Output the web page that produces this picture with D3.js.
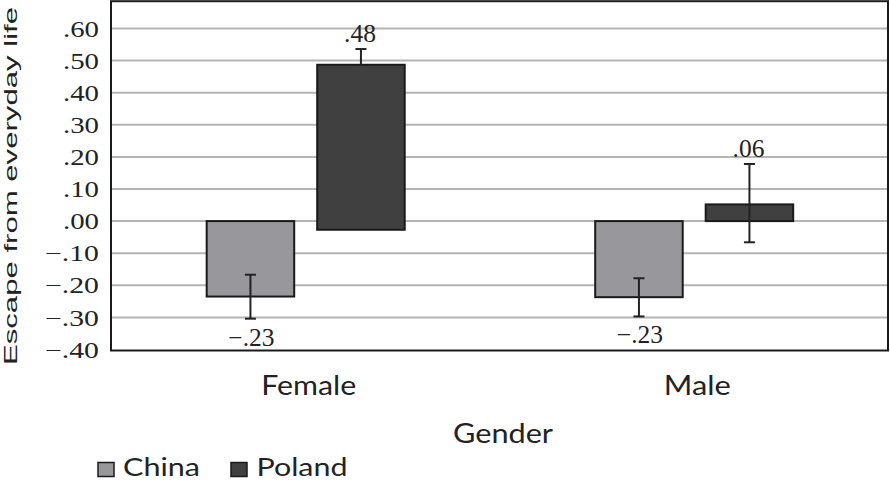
<!DOCTYPE html>
<html>
<head>
<meta charset="utf-8">
<script src="https://cdn.jsdelivr.net/npm/d3@7"></script>
<style>
  html, body { margin: 0; padding: 0; background: #fff; }
  svg { display: block; }
</style>
</head>
<body>
<svg id="chart" width="890" height="481"></svg>
<script>
// ---- data ----
const categories = ["Female", "Male"];
const series = ["China", "Poland"];
const chinaValues = [-0.235, -0.237];
const polandValues = [0.487, 0.052];
const chinaBase = [0, 0];
const polandBase = [-0.027, 0];
const chinaErrLow = [-0.304, -0.297];
const chinaErrHigh = [-0.167, -0.178];
const polandErrLow = [0.487, -0.066];
const polandErrHigh = [0.536, 0.178];
const chinaLabels = ["\u2212.23", "\u2212.23"];
const polandLabels = [".48", ".06"];
const tickValues = [-0.4, -0.3, -0.2, -0.1, 0, 0.1, 0.2, 0.3, 0.4, 0.5, 0.6];
const frameTopValue = 0.685;
const yTitle = "Escape from everyday life";
const xTitle = "Gender";

// ---- layout ----
const svg = d3.select("#chart");
const plotLeft = 111, plotRight = 888;
const y = d3.scaleLinear().domain([-0.4, 0.6]).range([349.5, 28.5]);
const x0 = d3.scaleBand().domain(categories).range([plotLeft, plotRight]).padding(0);
const bw = x0.bandwidth();
const x1 = d3.scaleBand().domain(series).range([0.2463 * bw, 0.756 * bw]).paddingInner(0.208).paddingOuter(0);
const colors = { China: "#98989c", Poland: "#404040" };
const numFont = "'Liberation Serif', serif";
const txtFont = "Lato, 'Open Sans', sans-serif";

const rows = categories.map((c, i) => ({
  cat: c,
  bars: [
    { s: "China", v: chinaValues[i], base: chinaBase[i], lo: chinaErrLow[i], hi: chinaErrHigh[i], label: chinaLabels[i] },
    { s: "Poland", v: polandValues[i], base: polandBase[i], lo: polandErrLow[i], hi: polandErrHigh[i], label: polandLabels[i] }
  ]
}));

// gridlines
svg.append("g").selectAll("line").data(tickValues.filter(t => t > -0.4)).join("line")
  .attr("x1", plotLeft).attr("x2", plotRight)
  .attr("y1", d => y(d)).attr("y2", d => y(d))
  .attr("stroke", "#b4b4b4").attr("stroke-width", 2);

// y axis ticks
const fmt = d => {
  const s = Math.abs(d).toFixed(2).replace(/^0/, "");
  return (d < -1e-9 ? "\u2212" : "") + s;
};
const yAxis = d3.axisLeft(y).tickValues(tickValues).tickFormat(fmt).tickSize(0).tickPadding(12);
const gy = svg.append("g").attr("transform", `translate(${plotLeft},0)`).call(yAxis);
gy.select(".domain").remove();
gy.selectAll("text")
  .attr("font-family", numFont).attr("font-size", 22.5).attr("fill", "#222")
  .attr("dy", "0.34em")
  .attr("textLength", d => (d < -1e-9 ? 54 : 36))
  .attr("lengthAdjust", "spacingAndGlyphs");

// bars
const groups = svg.append("g").selectAll("g").data(rows).join("g")
  .attr("transform", d => `translate(${x0(d.cat)},0)`);

groups.selectAll("rect").data(d => d.bars).join("rect")
  .attr("x", d => x1(d.s))
  .attr("width", x1.bandwidth())
  .attr("y", d => y(Math.max(d.v, d.base)))
  .attr("height", d => Math.abs(y(d.v) - y(d.base)))
  .attr("fill", d => colors[d.s])
  .attr("stroke", "#1a1a1a").attr("stroke-width", 2);

// error bars
const eb = groups.selectAll("g.err").data(d => d.bars).join("g").attr("class", "err");
eb.append("line")
  .attr("x1", d => x1(d.s) + x1.bandwidth() / 2).attr("x2", d => x1(d.s) + x1.bandwidth() / 2)
  .attr("y1", d => y(d.lo)).attr("y2", d => y(d.hi))
  .attr("stroke", "#222").attr("stroke-width", 2);
eb.selectAll("line.cap")
  .data(d => (d.lo === d.v ? [{ s: d.s, v: d.hi }] : [{ s: d.s, v: d.lo }, { s: d.s, v: d.hi }]))
  .join("line").attr("class", "cap")
  .attr("x1", d => x1(d.s) + x1.bandwidth() / 2 - 5.5).attr("x2", d => x1(d.s) + x1.bandwidth() / 2 + 5.5)
  .attr("y1", d => y(d.v)).attr("y2", d => y(d.v))
  .attr("stroke", "#222").attr("stroke-width", 2);

// value labels
groups.selectAll("text.val").data(d => d.bars).join("text").attr("class", "val")
  .attr("x", d => x1(d.s) + x1.bandwidth() / 2 + (d.s === "China" ? 1 : -1))
  .attr("y", d => d.v < 0 ? y(d.lo) + 27 : y(d.hi) - 7)
  .attr("text-anchor", "middle")
  .attr("font-family", numFont).attr("font-size", 25.5).attr("fill", "#222")
  .text(d => d.label);

// frame
svg.append("rect")
  .attr("x", plotLeft).attr("y", y(frameTopValue))
  .attr("width", plotRight - plotLeft).attr("height", y(-0.4) + 1 - y(frameTopValue))
  .attr("fill", "none").attr("stroke", "#1a1a1a").attr("stroke-width", 2);

// category labels
svg.append("g").selectAll("text").data(categories).join("text")
  .attr("x", d => x0(d) + bw / 2 + 3.5)
  .attr("y", 395)
  .attr("text-anchor", "middle")
  .attr("font-family", txtFont).attr("font-size", 27).attr("fill", "#222")
  .attr("textLength", d => d === "Female" ? 95 : 67)
  .attr("lengthAdjust", "spacingAndGlyphs")
  .text(d => d);

// x title
svg.append("text")
  .attr("x", 503).attr("y", 443)
  .attr("text-anchor", "middle")
  .attr("font-family", txtFont).attr("font-size", 27).attr("fill", "#222")
  .attr("textLength", 100).attr("lengthAdjust", "spacingAndGlyphs")
  .text(xTitle);

// y title
svg.append("text")
  .attr("transform", "translate(17,186) rotate(-90)")
  .attr("text-anchor", "middle")
  .attr("font-family", "'Liberation Sans', Arial, sans-serif").attr("font-size", 18).attr("fill", "#222")
  .attr("textLength", 358).attr("lengthAdjust", "spacingAndGlyphs")
  .text(yTitle);

// legend
const legendX = [98, 231];
const legendTextLen = [77, 91];
const lg = svg.append("g").selectAll("g").data(series).join("g")
  .attr("transform", (d, i) => `translate(${legendX[i]},462.5)`);
lg.append("rect").attr("width", 16).attr("height", 14)
  .attr("fill", d => colors[d]).attr("stroke", "#1a1a1a").attr("stroke-width", 1.5);
lg.append("text").attr("x", (d, i) => i === 0 ? 25 : 25.5).attr("y", 13)
  .attr("font-family", txtFont).attr("font-size", 25).attr("fill", "#222")
  .attr("textLength", (d, i) => legendTextLen[i]).attr("lengthAdjust", "spacingAndGlyphs")
  .text(d => d);
</script>
</body>
</html>
